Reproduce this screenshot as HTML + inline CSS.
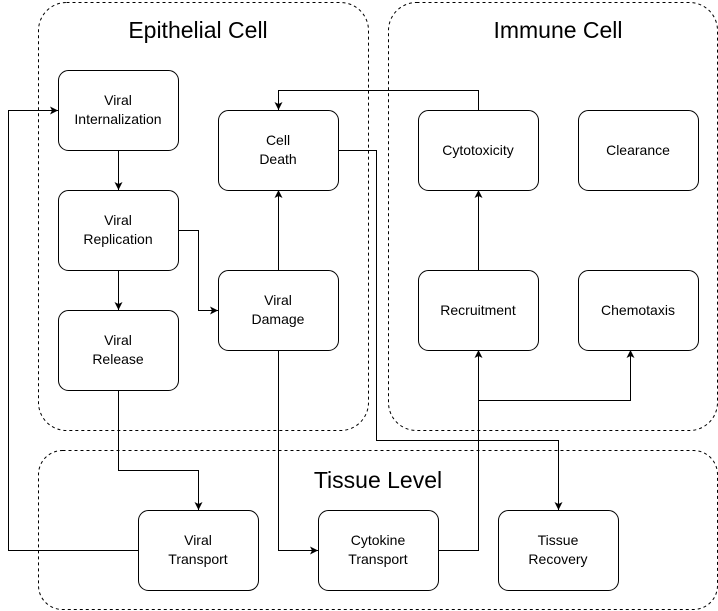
<!DOCTYPE html>
<html><head><meta charset="utf-8"><style>
html,body{margin:0;padding:0;background:#fff;}
svg{display:block;font-family:"Liberation Sans",Helvetica,Arial,sans-serif;}
</style></head><body>
<svg width="718" height="611" viewBox="0 0 718 611">
<defs>
<marker id="ah" markerWidth="10" markerHeight="10" refX="9" refY="5" orient="auto" markerUnits="userSpaceOnUse">
<path d="M1,1 L9,5 L1,9 L3,5 Z" fill="#000"/>
</marker>
</defs>
<g fill="none" stroke="#000" stroke-width="1" stroke-dasharray="3,3">
<rect x="38.5" y="2.5" width="330" height="428" rx="28"/>
<rect x="388.5" y="2.5" width="329" height="428" rx="28"/>
<rect x="38.5" y="450.5" width="679" height="159" rx="24"/>
</g>
<g font-size="23" text-anchor="middle" fill="#000">
<text x="198" y="38">Epithelial Cell</text>
<text x="558" y="38">Immune Cell</text>
<text x="378" y="488">Tissue Level</text>
</g>
<g fill="none" stroke="#000" stroke-width="1" marker-end="url(#ah)">
<path d="M118.5,150 V190"/>
<path d="M118.5,270 V310"/>
<path d="M178,230.5 H198.5 V310.5 H218"/>
<path d="M278.5,270 V190"/>
<path d="M478.5,110 V90.5 H278.5 V110"/>
<path d="M338,150.5 H376.5 V440.5 H558.5 V510"/>
<path d="M118.5,390 V470.5 H198.5 V510"/>
<path d="M138,550.5 H8.5 V110.5 H58"/>
<path d="M278.5,350 V550.5 H318"/>
<path d="M378,550.5 H478.5 V350"/>
<path d="M478.5,400.5 H630.5 V350"/>
<path d="M478.5,270 V190"/>
</g>
<g fill="#fff" stroke="#000" stroke-width="1">
<rect x="58.5" y="70.5" width="120" height="80" rx="10"/>
<rect x="58.5" y="190.5" width="120" height="80" rx="10"/>
<rect x="58.5" y="310.5" width="120" height="80" rx="10"/>
<rect x="218.5" y="110.5" width="120" height="80" rx="10"/>
<rect x="218.5" y="270.5" width="120" height="80" rx="10"/>
<rect x="418.5" y="110.5" width="120" height="80" rx="10"/>
<rect x="578.5" y="110.5" width="120" height="80" rx="10"/>
<rect x="418.5" y="270.5" width="120" height="80" rx="10"/>
<rect x="578.5" y="270.5" width="120" height="80" rx="10"/>
<rect x="138.5" y="510.5" width="120" height="80" rx="10"/>
<rect x="318.5" y="510.5" width="120" height="80" rx="10"/>
<rect x="498.5" y="510.5" width="120" height="80" rx="10"/>
</g>
<g font-size="14" text-anchor="middle" fill="#000">
<text x="118" y="105">Viral</text>
<text x="118" y="124">Internalization</text>
<text x="118" y="225">Viral</text>
<text x="118" y="244">Replication</text>
<text x="118" y="345">Viral</text>
<text x="118" y="364">Release</text>
<text x="278" y="145">Cell</text>
<text x="278" y="164">Death</text>
<text x="278" y="305">Viral</text>
<text x="278" y="324">Damage</text>
<text x="478" y="155">Cytotoxicity</text>
<text x="638" y="155">Clearance</text>
<text x="478" y="315">Recruitment</text>
<text x="638" y="315">Chemotaxis</text>
<text x="198" y="545">Viral</text>
<text x="198" y="564">Transport</text>
<text x="378" y="545">Cytokine</text>
<text x="378" y="564">Transport</text>
<text x="558" y="545">Tissue</text>
<text x="558" y="564">Recovery</text>
</g>
</svg>
</body></html>
